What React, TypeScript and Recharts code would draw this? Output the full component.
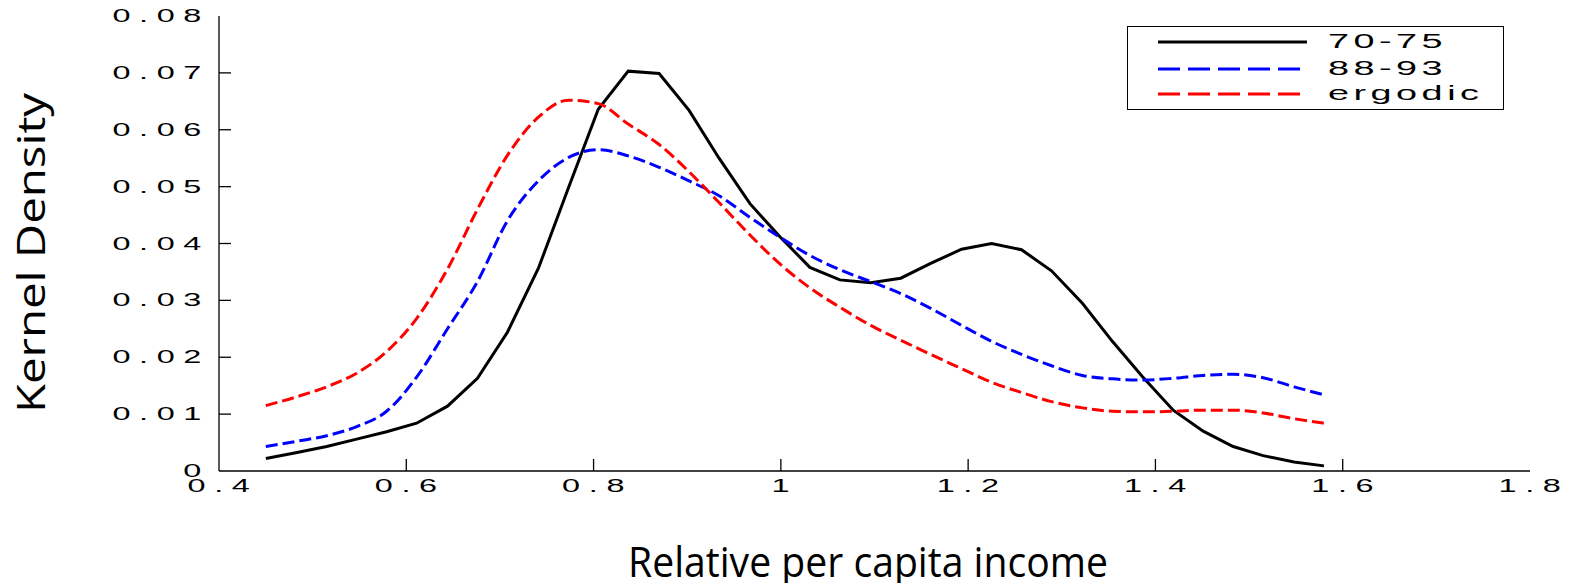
import { LineChart, Line, XAxis, YAxis, Legend } from 'recharts'

// relative per capita income grid (x) and kernel density estimates
const incomeX = [
  0.45, 0.482, 0.515, 0.547, 0.579, 0.611, 0.644, 0.676, 0.708, 0.741, 0.773, 0.805,
  0.837, 0.87, 0.902, 0.934, 0.967, 0.999, 1.031, 1.063, 1.096, 1.128, 1.16, 1.193,
  1.225, 1.257, 1.289, 1.322, 1.354, 1.386, 1.419, 1.451, 1.483, 1.515, 1.548, 1.58,
]
const density7075 = [
  0.0022, 0.0032, 0.0043, 0.0056, 0.0069, 0.0084, 0.0114, 0.0163, 0.0244, 0.0356, 0.0497, 0.0636,
  0.0703, 0.0699, 0.0634, 0.055, 0.047, 0.0412, 0.0358, 0.0336, 0.0331, 0.0339, 0.0365, 0.039,
  0.04, 0.0389, 0.0352, 0.0295, 0.0228, 0.0166, 0.0107, 0.007, 0.0043, 0.0027, 0.0016, 0.0009,
]
const density8893 = [
  0.0043, 0.0052, 0.0062, 0.0078, 0.0105, 0.0165, 0.025, 0.0333, 0.044, 0.051, 0.0551, 0.0565,
  0.0554, 0.0534, 0.051, 0.0484, 0.0446, 0.0411, 0.0379, 0.0354, 0.0333, 0.0312, 0.0286, 0.0256,
  0.0228, 0.0205, 0.0185, 0.0168, 0.0162, 0.016, 0.0163, 0.0168, 0.017, 0.0164, 0.0148, 0.0134,
]
const densityErgodic = [
  0.0115, 0.013, 0.0148, 0.0172, 0.021, 0.0268, 0.0355, 0.046, 0.0555, 0.0622, 0.0652, 0.0646,
  0.061, 0.0574, 0.0526, 0.0472, 0.0415, 0.0364, 0.0322, 0.0288, 0.0256, 0.023, 0.0205, 0.018,
  0.0156, 0.0138, 0.0122, 0.0111, 0.0105, 0.0104, 0.0105, 0.0107, 0.0107, 0.0102, 0.0092, 0.0084,
]
const xTicks = [0.4, 0.6, 0.8, 1, 1.2, 1.4, 1.6, 1.8]
const yTicks = [0, 0.01, 0.02, 0.03, 0.04, 0.05, 0.06, 0.07, 0.08]
const seriesNames = ['70-75', '88-93', 'ergodic']
const seriesColors = ['#000000', '#0000ff', '#ff0000']

const data = incomeX.map((x, i) => ({
  x,
  a: density7075[i],
  b: density8893[i],
  c: densityErgodic[i],
}))

const tickFont = {
  fontFamily: '"Liberation Sans", Arial, sans-serif',
  fontSize: 18,
  letterSpacing: 4.8,
  fill: '#000',
}

const isEdgeX = (v: number) => v === xTicks[0] || v === xTicks[xTicks.length - 1]
const isEdgeY = (v: number) => v === yTicks[0] || v === yTicks[yTicks.length - 1]

function LeftTick({ x, y, payload }: any) {
  const v = payload.value
  return (
    <g>
      {!isEdgeY(v) && <line x1={x} y1={y} x2={x + 12} y2={y} stroke="#000" strokeWidth={1.3} />}
      <g transform={`translate(${x - 9},${y + 6}) scale(1.8,1)`}>
        <text textAnchor="end" style={tickFont}>{v === 0 ? '0' : v.toFixed(2)}</text>
      </g>
    </g>
  )
}

function RightTick({ x, y, payload }: any) {
  if (isEdgeY(payload.value)) return null
  return <line x1={x} y1={y} x2={x - 12} y2={y} stroke="#000" strokeWidth={1.3} />
}

function BottomTick({ x, y, payload }: any) {
  const v = payload.value
  return (
    <g>
      {!isEdgeX(v) && <line x1={x} y1={y} x2={x} y2={y - 12} stroke="#000" strokeWidth={1.3} />}
      <g transform={`translate(${x + 4},${y + 21}) scale(1.8,1)`}>
        <text textAnchor="middle" style={tickFont}>{String(v)}</text>
      </g>
    </g>
  )
}

function TopTick({ x, y, payload }: any) {
  if (isEdgeX(payload.value)) return null
  return <line x1={x} y1={y} x2={x} y2={y + 12} stroke="#000" strokeWidth={1.3} />
}

function LegendBox() {
  const rows = [22, 49, 74]
  return (
    <div style={{ width: 377, height: 84, border: '1.3px solid #000', background: '#fff', boxSizing: 'border-box' }}>
      <svg width={375} height={82}>
        {seriesNames.map((name, i) => (
          <g key={name}>
            <line
              x1={30}
              x2={179}
              y1={rows[i] - 7}
              y2={rows[i] - 7}
              stroke={seriesColors[i]}
              strokeWidth={3}
              strokeDasharray={i === 0 ? undefined : '22 8'}
            />
            <g transform={`translate(200,${rows[i] - 1}) scale(1.8,1)`}>
              <text
                style={{ fontFamily: '"Liberation Sans", Arial, sans-serif', fontSize: 21, letterSpacing: 2.5, fill: '#000' }}
              >
                {name}
              </text>
            </g>
          </g>
        ))}
      </svg>
    </div>
  )
}

export default function App() {
  return (
    <div style={{ position: 'absolute', left: 0, top: 0, background: '#fff' }}>
      <LineChart width={1569} height={583} data={data} margin={{ top: 16, right: 39, bottom: 0, left: 0 }}>
        <XAxis
          dataKey="x"
          type="number"
          domain={[0.4, 1.8]}
          ticks={xTicks}
          height={112}
          tickSize={0}
          tickMargin={0}
          tickLine={false}
          axisLine={{ stroke: '#000', strokeWidth: 1.3 }}
          tick={<BottomTick />}
          interval={0}
        />
        <XAxis
          xAxisId="top"
          orientation="top"
          dataKey="x"
          type="number"
          domain={[0.4, 1.8]}
          ticks={xTicks}
          height={0}
          tickSize={0}
          tickMargin={0}
          tickLine={false}
          axisLine={{ stroke: '#000', strokeWidth: 1.3 }}
          tick={<TopTick />}
          interval={0}
          allowDataOverflow
        />
        <YAxis
          type="number"
          domain={[0, 0.08]}
          ticks={yTicks}
          width={219}
          tickSize={0}
          tickMargin={0}
          tickLine={false}
          axisLine={{ stroke: '#000', strokeWidth: 1.3 }}
          tick={<LeftTick />}
          interval={0}
        />
        <YAxis
          yAxisId="right"
          orientation="right"
          type="number"
          domain={[0, 0.08]}
          ticks={yTicks}
          width={0}
          tickSize={0}
          tickMargin={0}
          tickLine={false}
          axisLine={{ stroke: '#000', strokeWidth: 1.3 }}
          tick={<RightTick />}
          interval={0}
          allowDataOverflow
        />
        <Line type="linear" dataKey="a" name="70-75" stroke="#000000" strokeWidth={3} dot={false} isAnimationActive={false} />
        <Line type="monotone" dataKey="b" name="88-93" stroke="#0000ff" strokeWidth={3} strokeDasharray="12 5" dot={false} isAnimationActive={false} />
        <Line type="monotone" dataKey="c" name="ergodic" stroke="#ff0000" strokeWidth={3} strokeDasharray="12 5" dot={false} isAnimationActive={false} />
        <Legend
          layout="vertical"
          align="center"
          verticalAlign="middle"
          content={() => <LegendBox />}
          wrapperStyle={{ left: 1127, top: 26, width: 377, height: 84, right: 'auto', bottom: 'auto' }}
        />
        <text
          x={868}
          y={577}
          textAnchor="middle"
          textLength={480}
          lengthAdjust="spacingAndGlyphs"
          style={{ fontFamily: '"Open Sans", sans-serif', fontSize: 42, fill: '#000' }}
        >
          Relative per capita income
        </text>
        <text
          transform="translate(45,253) rotate(-90)"
          textAnchor="middle"
          textLength={320}
          lengthAdjust="spacingAndGlyphs"
          style={{ fontFamily: '"Open Sans", sans-serif', fontSize: 39, fill: '#000' }}
        >
          Kernel Density
        </text>
      </LineChart>
    </div>
  )
}
